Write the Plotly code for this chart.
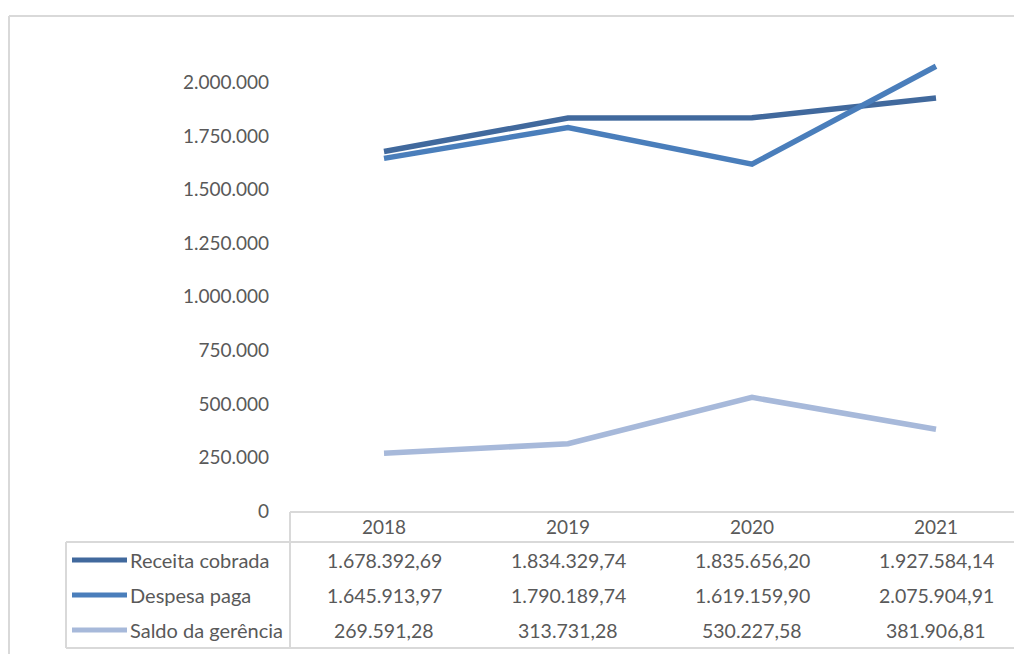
import plotly.graph_objects as go

years = ["2018", "2019", "2020", "2021"]
receita = [1678392.69, 1834329.74, 1835656.20, 1927584.14]
despesa = [1645913.97, 1790189.74, 1619159.90, 2075904.91]
saldo = [269591.28, 313731.28, 530227.58, 381906.81]
series_names = ["Receita cobrada", "Despesa paga", "Saldo da gerência"]
series_values = [receita, despesa, saldo]
colors = ["#41699D", "#4A7EBB", "#A7B9DA"]

W, H = 1014, 654
ML, MR, MT, MB = 290, 0, 29, 654 - 511
PW = W - ML - MR
PH = H - MT - MB
CAT = 184.0
X0 = -0.5 - 2.0 / CAT

def px_x(px):
    return (px - ML) / PW

def px_y(py):
    return (H - MB - py) / PH

def fmt_br(v):
    s = f"{v:,.2f}"
    return s.replace(",", "X").replace(".", ",").replace("X", ".")

FONT = "Lato, 'Open Sans', sans-serif"
TXT = "#595959"
GRID = "#D9D9D9"

fig = go.Figure()
xs = list(range(len(years)))
for name, vals, col in zip(series_names, series_values, colors):
    fig.add_trace(go.Scatter(x=xs, y=vals, mode="lines", name=name,
                             line=dict(color=col, width=5.5), showlegend=False))

shapes = []
def hline(py, x0, x1):
    shapes.append(dict(type="line", xref="paper", yref="paper",
                       x0=px_x(x0), x1=px_x(x1), y0=px_y(py), y1=px_y(py),
                       line=dict(color=GRID, width=2)))
def vline(px, y0, y1):
    shapes.append(dict(type="line", xref="paper", yref="paper",
                       x0=px_x(px), x1=px_x(px), y0=px_y(y0), y1=px_y(y1),
                       line=dict(color=GRID, width=2)))

# outer chart border (continues past the right edge of the picture)
hline(16, 9, 1040)
vline(9, 16, 670)
# data table grid
hline(512, 290, 1040)
hline(542, 66, 1040)
hline(648, 66, 1040)
vline(290, 512, 648)
vline(66, 542, 648)

row_y = [560, 595, 630]
annotations = []
for name, vals, col, ry in zip(series_names, series_values, colors, row_y):
    shapes.append(dict(type="line", xref="paper", yref="paper",
                       x0=px_x(72), x1=px_x(127), y0=px_y(ry), y1=px_y(ry),
                       line=dict(color=col, width=5)))
    annotations.append(dict(xref="paper", yref="paper", x=px_x(128), y=px_y(ry),
                            text=name, showarrow=False, xanchor="left", yanchor="middle",
                            font=dict(family=FONT, size=20, color=TXT)))
    for i, v in enumerate(vals):
        annotations.append(dict(xref="x", yref="paper", x=i, y=px_y(ry),
                                text=fmt_br(v), showarrow=False, xanchor="center",
                                yanchor="middle",
                                font=dict(family=FONT, size=19.5, color=TXT)))

fig.update_layout(
    width=W, height=H,
    margin=dict(l=ML, r=MR, t=MT, b=MB, pad=0),
    paper_bgcolor="white", plot_bgcolor="white",
    separators=",.",
    shapes=shapes, annotations=annotations,
    xaxis=dict(range=[X0, X0 + PW / CAT], tickvals=xs, ticktext=years,
               showgrid=False, zeroline=False, showline=False, ticks="",
               tickfont=dict(family=FONT, size=19, color=TXT),
               ticklabelstandoff=3, fixedrange=True),
    yaxis=dict(range=[0, 2250000], tickvals=[0, 250000, 500000, 750000, 1000000,
                                                1250000, 1500000, 1750000, 2000000],
               tickformat=",d", showgrid=False, zeroline=False, showline=False,
               ticks="", ticklabelstandoff=20,
               tickfont=dict(family=FONT, size=19, color=TXT), fixedrange=True),
)

fig.write_html(
    "out.html", config={"displayModeBar": False},
    post_script=("document.documentElement.style.margin='0';"
                 "document.documentElement.style.overflow='hidden';"
                 "document.body.style.margin='0';"
                 "document.body.style.overflow='hidden';"))
